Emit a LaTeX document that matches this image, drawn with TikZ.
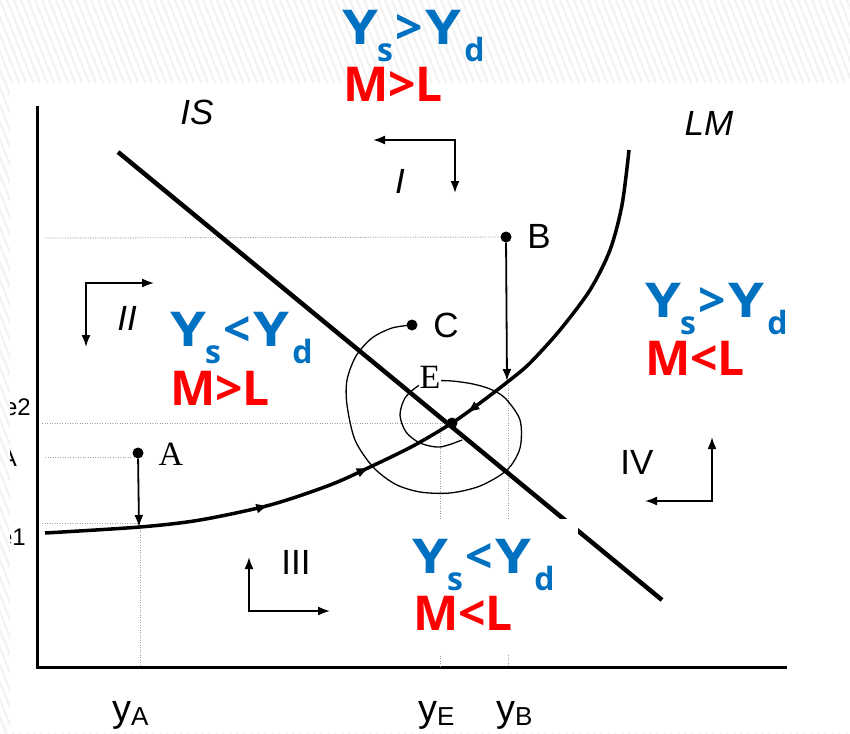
\documentclass[tikz,border=0pt]{standalone}
\usepackage{fontspec}
\setmainfont{Liberation Sans}
\newfontfamily\serfont{Liberation Serif}
\newfontfamily\bigfont{Open Sans}
\usetikzlibrary{arrows.meta,decorations.markings}
\definecolor{eblue}{HTML}{0070C0}
\definecolor{ered}{HTML}{FF0000}
\newcommand\subl[1]{\raisebox{-17pt}{\fontsize{32}{32}\selectfont #1}}
\newcommand\bigY{\scalebox{1.2}[1]{Y}}
\newcommand\YYrel[1]{\bigY\kern-1pt\subl{s}\kern2pt#1\kern3pt\bigY\kern3pt\subl{d}}
\tikzset{
  hatch/.style={line width=2pt, color=gray!10},
  axis/.style={line width=3pt, line cap=rect},
  isline/.style={line width=4.5pt},
  lmline/.style={line width=3.5pt},
  guide/.style={line width=0.9pt, gray!75, dash pattern=on 1.2pt off 1.3pt},
  thinarrow/.style={line width=1.8pt, -{Latex[length=12pt,width=9pt]}},
  elbow/.style={line width=1.8pt, {Latex[length=12pt,width=9pt]}-{Latex[length=12pt,width=9pt]}},
  spiral/.style={line width=1.3pt},
  dot/.style={circle, fill=black, inner sep=0pt, minimum size=11pt},
  lab/.style={font=\fontsize{35}{35}\selectfont, inner sep=0pt},
  itlab/.style={font=\fontsize{35}{35}\selectfont\itshape, inner sep=0pt},
  serlab/.style={font=\serfont\fontsize{34}{34}\selectfont, inner sep=0pt},
  edgelab/.style={font=\fontsize{24}{24}\selectfont, inner sep=0pt, anchor=base east},
  axlab/.style={font=\fontsize{38}{38}\selectfont, inner sep=0pt, anchor=base west},
  bigtxt/.style={font=\bigfont\bfseries\fontsize{48}{48}\selectfont, anchor=base west, inner sep=0pt},
}
\newcommand\axsub[1]{\raisebox{-4pt}{\fontsize{26}{26}\selectfont #1}}
\begin{document}
\begin{tikzpicture}[x=1pt,y=-1pt]
\useasboundingbox (0,0) rectangle (850,733);
% hatched background
\begin{scope}
  \clip (0,0) rectangle (850,733);
  \foreach \i in {-50,...,125} { \draw[hatch] (\i*7,0) -- ++(300,750); }
\end{scope}
\fill[white] (10,83) rectangle (850,733);
% cut-off labels at the left edge
\begin{scope}
  \clip (10,83) rectangle (40,733);
  \node[edgelab] (le2) at (31,415) {e2};
  \node[edgelab] (lA) at (17,466) {A};
  \node[edgelab] (le1) at (26,545) {e1};
\end{scope}
% axes
\coordinate (O) at (37,667);
\coordinate (ytop) at (37,108);
\coordinate (xend) at (785,667);
\draw[axis] (ytop) -- (O) -- (xend);
% points
\coordinate (Ep) at (452,423);
\coordinate (Ap) at (138,453);
\coordinate (Bp) at (506,237);
\coordinate (Cp) at (412,325);
\coordinate (aL) at (139,527);
\coordinate (bL) at (507,381);
% guide lines
\coordinate (gB0) at (45,238);
\coordinate (gE0) at (42,423);
\coordinate (gE1) at (446,423);
\coordinate (gA0) at (45,457);
\coordinate (gA1) at (132,457);
\coordinate (g10) at (42,523);
\coordinate (g11) at (139,523);
\coordinate (vA0) at (140,527);
\coordinate (vA1) at (140,667);
\coordinate (vE0) at (440,423);
\coordinate (vE1) at (440,667);
\coordinate (vB0) at (508,385);
\coordinate (vB1) at (508,667);
\draw[guide] (gB0) -- (Bp);
\draw[guide] (gE0) -- (gE1);
\draw[guide] (gA0) -- (gA1);
\draw[guide] (g10) -- (g11);
\draw[guide] (vA0) -- (vA1);
\draw[guide] (vE0) -- (vE1);
\draw[guide] (vB0) -- (vB1);
% IS line
\coordinate (IS0) at (118,152);
\coordinate (IS1) at (662,600);
\draw[isline] (IS0) -- (IS1);
% LM curve
\draw[lmline, postaction={decorate}, decoration={markings,
   mark=at position 0.295 with {\arrow{Latex[length=13pt,width=10pt]}},
   mark=at position 0.435 with {\arrow{Latex[length=13pt,width=10pt]}},
   mark=at position 0.58 with {\arrowreversed{Latex[length=13pt,width=10pt]}}}]
  plot[smooth, tension=0.5] coordinates {(45,533) (140,527) (200,520) (270,505) (330,485) (370,467) (413,446) (452,423) (480,403) (510,380) (530,363) (560,330) (590,290) (610,250) (622,205) (629,150)};
% spiral
\draw[spiral] plot[smooth, tension=0.5] coordinates {(412,325) (392,328) (372,338) (356,356) (347,380) (347,405) (355,440) (373,467) (395,484) (420,492) (450,493) (480,486) (507,470) (520,448) (520,420) (505,398) (490,389) (473,384) (452,381) (432,381) (418,386) (405,398) (400,415) (406,432) (420,443) (440,447) (462,440)};
% white box over lower area
\fill[white] (398,519) rectangle (578,655);
% dots
\node[dot] (A) at (Ap) {};
\node[dot] (B) at (Bp) {};
\node[dot] (C) at (Cp) {};
\node[dot] (E) at (Ep) {};
% vertical arrows to LM
\draw[thinarrow] (A) -- (aL);
\draw[thinarrow] (B) -- (bL);
% point labels
\node[lab] (Blab) at (539,236) {B};
\node[lab] (Clab) at (446,325) {C};
\node[serlab] (Alab) at (171,454) {A};
\node[serlab, fill=white, inner sep=1pt] (Elab) at (430,377) {E};
% curve labels
\node[itlab] (ISlab) at (197,112) {IS};
\node[itlab] (LMlab) at (709,123) {LM};
% quadrant arrows
\coordinate (I1) at (373,140); \coordinate (Ic) at (455,140); \coordinate (I2) at (455,193);
\draw[elbow] (I1) -- (Ic) -- (I2);
\coordinate (II1) at (154,283); \coordinate (IIc) at (86,283); \coordinate (II2) at (86,347);
\draw[elbow] (II1) -- (IIc) -- (II2);
\coordinate (III1) at (249,557); \coordinate (IIIc) at (249,611); \coordinate (III2) at (330,611);
\draw[elbow] (III1) -- (IIIc) -- (III2);
\coordinate (IV1) at (712,437); \coordinate (IVc) at (712,501); \coordinate (IV2) at (645,501);
\draw[elbow] (IV1) -- (IVc) -- (IV2);
\node[itlab] (qI) at (400,181) {I};
\node[itlab] (qII) at (127,318) {II};
\node[lab] (qIII) at (296,562) {III};
\node[lab] (qIV) at (637,462) {IV};
% x-axis labels
\node[axlab] (yA) at (112,721) {y\axsub{A}};
\node[axlab] (yE) at (418,721) {y\axsub{E}};
\node[axlab] (yB) at (496,721) {y\axsub{B}};
% coloured conditions
\node[bigtxt, text=eblue] (t1) at (342,45) {\YYrel{>}};
\node[bigtxt, text=ered] (t2) at (343,102) {M>L};
\node[bigtxt, text=eblue] (l1) at (170,346) {\YYrel{<}};
\node[bigtxt, text=ered] (l2) at (170,405) {M>L};
\node[bigtxt, text=eblue] (r1) at (645,317) {\YYrel{>}};
\node[bigtxt, text=ered] (r2) at (645,375) {M<L};
\node[bigtxt, text=eblue] (b1) at (412,573) {\YYrel{<}};
\node[bigtxt, text=ered] (b2) at (413,630) {M<L};
\end{tikzpicture}
\end{document}
